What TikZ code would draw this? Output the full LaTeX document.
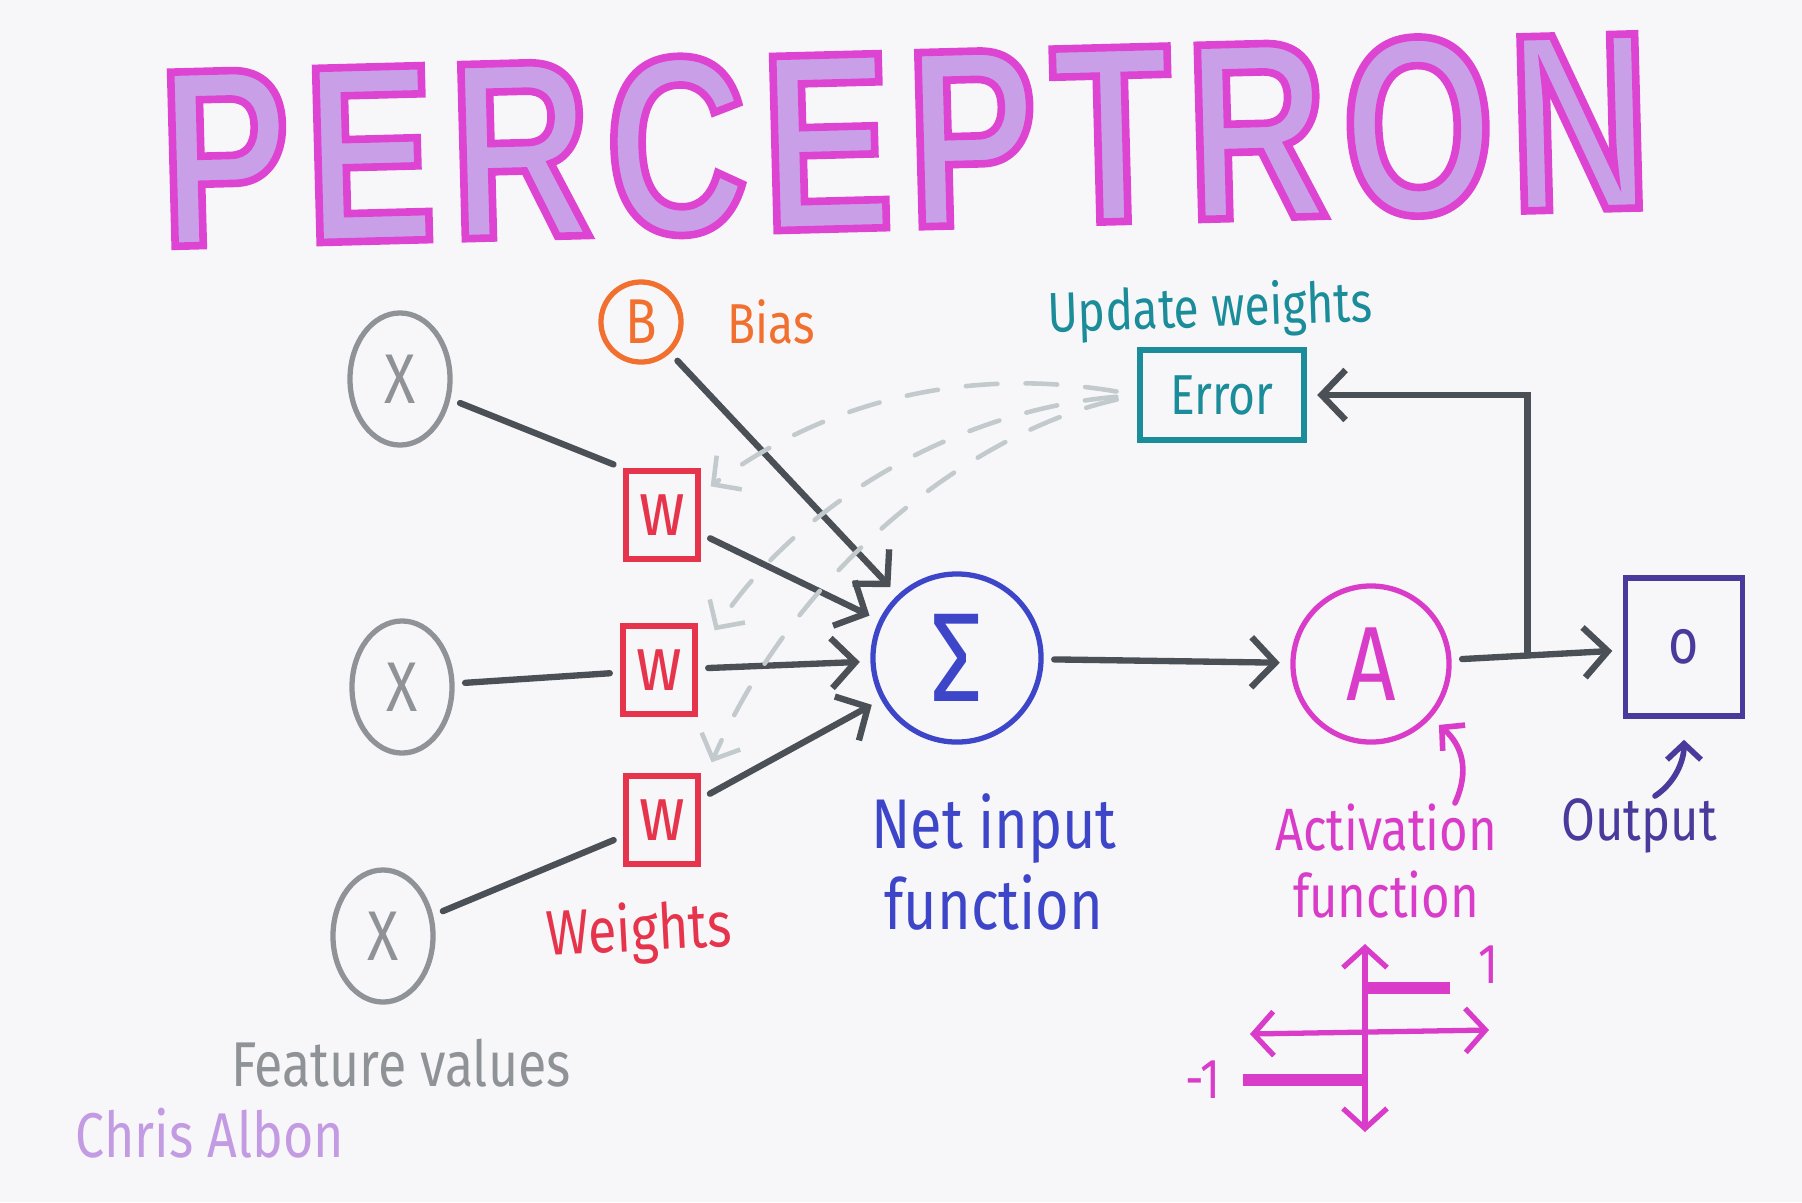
\documentclass[tikz,border=0pt]{standalone}
\usepackage{fontspec}
\usetikzlibrary{positioning,shapes.geometric,arrows.meta,calc}
\setmainfont{Fira Sans}[FakeStretch=0.82]
\newfontfamily\titlefont{Liberation Sans}[FakeStretch=0.77,FakeBold=3,LetterSpace=6]
\definecolor{paper}{HTML}{F7F7F9}
\definecolor{featgray}{HTML}{8F9296}
\definecolor{edge}{HTML}{4B4F56}
\definecolor{dashgray}{HTML}{C3CACD}
\definecolor{bias}{HTML}{F2702F}
\definecolor{wred}{HTML}{E5344B}
\definecolor{sumblue}{HTML}{3D45C9}
\definecolor{actpink}{HTML}{D93CC8}
\definecolor{outpurple}{HTML}{4A3A9C}
\definecolor{errteal}{HTML}{1B8C99}
\definecolor{signpurple}{HTML}{C39BE3}
% lavender fill, magenta stroke for the title letters
\newcommand{\titleink}[1]{\special{pdf:bcolor [0.788 0.627 0.91] [0.871 0.267 0.824]}#1\special{pdf:ecolor}}

\begin{document}
\begin{tikzpicture}[x=0.01cm,y=-0.01cm,line width=1.5pt,
      feature/.style={ellipse,draw=featgray,minimum width=1cm,minimum height=1.32cm,inner sep=0pt,text=featgray,font=\fontsize{20}{20}\selectfont},
      weight/.style={rectangle,draw=wred,minimum width=.72cm,minimum height=.88cm,inner sep=0pt,text=wred,font=\fontsize{22}{22}\selectfont},
      unit/.style={circle,inner sep=0pt},
      note/.style={align=center,inner sep=0pt},
      link/.style={draw=edge,line cap=round,line width=1.8pt,shorten <=3pt,shorten >=3pt},
      arrow/.style={link,-{Straight Barb[length=2.4mm,width=5mm]}},
      update/.style={draw=dashgray,dashed,dash pattern=on 9pt off 8pt,line width=1.3pt,line cap=round,-{Straight Barb[length=2mm,width=4.2mm]}},
      pointer/.style={line width=1.6pt,line cap=round,-{Straight Barb[length=1.6mm,width=3.4mm]}}]
  \fill[paper] (0,0) rectangle (1802,1202);
  % title
  \node[rotate=1.5,inner sep=0pt] (title) at (905,140) {\titlefont\bfseries\fontsize{72}{72}\selectfont\titleink{PERCEPTRON}};
  % inputs and bias
  \node[feature] (x1) at (400,379) {X};
  \node[feature] (x2) at (402,687) {X};
  \node[feature] (x3) at (383,936) {X};
  \node[note,text=featgray,font=\fontsize{18}{18}\selectfont] (featlabel) at (401,1063) {Feature values};
  \node[unit,draw=bias,minimum size=.8cm,text=bias,font=\fontsize{18}{18}\selectfont] (b) at (641,322) {B};
  \node[note,text=bias,font=\fontsize{16}{16}\selectfont,right=.41cm of b] (biaslabel) {Bias};
  % weights
  \node[weight] (w1) at (662,515) {w};
  \node[weight] (w2) at (659,670) {w};
  \node[weight] (w3) at (662,820) {w};
  \node[note,text=wred,rotate=3,font=\fontsize{18}{18}\selectfont] (wlabel) at (639,933) {Weights};
  % net input, activation, output
  \node[unit,draw=sumblue,minimum size=1.68cm,text=sumblue,font=\fontsize{36}{36}\selectfont] (sigma) at (957,658) {Σ};
  \node[note,text=sumblue,font=\fontsize{20}{23}\selectfont] (netlabel) at (994,862) {Net input\\function};
  \node[unit,draw=actpink,minimum size=1.56cm,text=actpink,font=\fontsize{30}{30}\selectfont] (act) at (1371,664) {A};
  \node[note,text=actpink,font=\fontsize{17}{19}\selectfont] (actlabel) at (1386,861) {Activation\\function};
  \node[rectangle,draw=outpurple,minimum width=1.17cm,minimum height=1.38cm,text=outpurple,font=\fontsize{18}{18}\selectfont] (out) at (1684,647) {o};
  \node[note,text=outpurple,font=\fontsize{17}{17}\selectfont] (outlabel) at (1639,826) {Output};
  % error
  \node[rectangle,draw=errteal,minimum width=1.64cm,minimum height=.9cm,text=errteal,font=\fontsize{16}{16}\selectfont] (error) at (1222,395) {Error};
  \node[note,text=errteal,rotate=2,font=\fontsize{16}{16}\selectfont] (uplabel) at (1210,311) {Update weights};
  \node[note,text=signpurple,font=\fontsize{18}{18}\selectfont] (sign) at (210,1133) {Chris Albon};
  % connectors
  \draw[link] (x1) -- (w1.north west);
  \draw[link] (x2) -- (w2);
  \draw[link] (x3) -- (w3);
  \draw[arrow] (b) -- (sigma);
  \draw[arrow] (w1) -- (sigma);
  \draw[arrow] (w2) -- (sigma);
  \draw[arrow] (w3) -- (sigma);
  \draw[arrow] (sigma) -- (act);
  \coordinate (split) at ($(act)!.5!(out)$);
  \draw[arrow] (act) -- (out);
  \draw[arrow,shorten <=0pt] (split) |- (error);
  % weight updates
  \draw[update,shorten <=6pt] (error.west) .. controls (960,365) and (820,405) .. ([xshift=.1cm,yshift=-.18cm]w1.north east);
  \draw[update,shorten <=6pt] (error.west) .. controls (960,410) and (800,500) .. ([xshift=.17cm,yshift=-.07cm]w2.north east);
  \draw[update,shorten <=6pt] (error.west) .. controls (980,430) and (800,560) .. ([xshift=.11cm,yshift=.11cm]w3.north east);
  % label pointers
  \coordinate (acttail) at (1455,803);
  \coordinate (outtail) at (1655,796);
  \draw[pointer,actpink,shorten >=3pt] (acttail) .. controls (1470,770) and (1462,745) .. (act.-42);
  \draw[pointer,outpurple,shorten >=6pt] (outtail) .. controls (1676,782) and (1684,760) .. (out.south);
  % step function
  \draw[actpink,line width=1.5pt,{Straight Barb[length=2mm,width=4.4mm]}-{Straight Barb[length=2mm,width=4.4mm]}] (1365,1132) -- (1365,944);
  \draw[actpink,line width=1.5pt,{Straight Barb[length=2mm,width=4.4mm]}-{Straight Barb[length=2mm,width=4.4mm]}] (1250,1034) -- (1489,1030);
  \draw[actpink,line width=3.6pt] (1365,988) -- (1450,988);
  \draw[actpink,line width=3.6pt] (1243,1080) -- (1365,1080);
  \node[note,text=actpink,font=\fontsize{16}{16}\selectfont] (one) at (1488,965) {1};
  \node[note,text=actpink,font=\fontsize{16}{16}\selectfont] (minusone) at (1203,1080) {-1};
\end{tikzpicture}
\end{document}
